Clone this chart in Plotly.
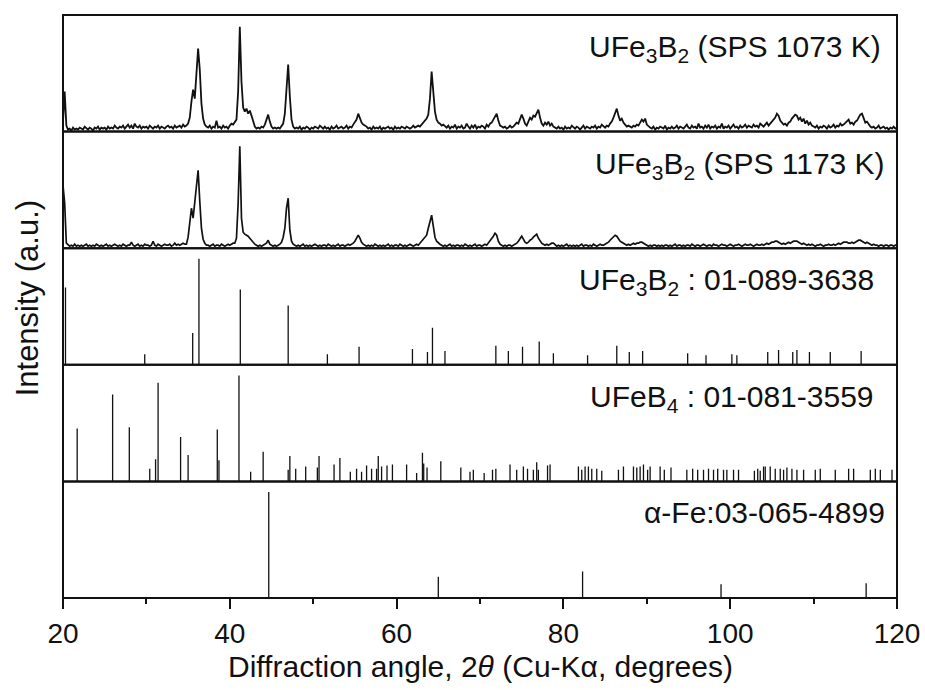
import plotly.graph_objects as go

# ---------------- data ----------------
STEP = 0.2  # 2theta step of the digitised patterns (deg)

# UFe3B2 sintered at 1073 K: runs of (start 2theta, intensities at STEP spacing)
runs_1073 = [
    (20.0, [10, 40, 6, 2]),
    (20.8, [3, 1, 4, 2, 3, 2, 4, 3, 2, 5, 3, 2, 4, 3, 1, 4, 3, 5, 2, 4, 3]),
    (25.0, [4, 2, 5, 3, 4, 3, 6, 4, 3, 5, 4, 6, 3, 5, 7, 4, 6, 3, 8, 5, 4, 6, 3, 5, 4]),
    (30.0, [5, 3, 6, 4, 3, 5, 4, 6, 3, 5, 4, 3, 5, 6, 4, 5, 3, 6, 4, 5, 6, 4, 7, 5, 6]),
    (35.0, [8, 14, 30, 42, 33, 55, 83, 62, 28, 13, 7, 5]),
    (37.4, [4, 6, 3, 5, 4, 11, 4, 5, 3, 6, 4, 5, 3, 6, 8, 7]),
    (40.6, [9, 12, 40, 105, 50, 24, 20, 23, 18, 21, 16, 10, 5, 3, 4, 3, 5, 4, 7, 12, 17, 10, 5,
            3, 4, 3, 4, 3, 5, 8, 18, 43, 67, 35, 12, 5, 3]),
    (48.0, [4, 3, 5, 2, 4, 3, 5, 4, 2, 4, 3, 5, 4, 3, 6, 4, 3, 5, 3, 4, 2, 5, 3, 4, 6, 3, 4, 5,
            3, 4, 6, 3, 5, 4, 7, 9]),
    (55.2, [12, 18, 13, 9, 7, 6, 5]),
    (56.6, [3, 4, 2, 5, 3, 4, 3, 5, 2, 4, 3, 4, 5, 3, 4, 2, 5, 3, 4, 3, 5, 4, 3, 5, 4, 3, 4, 6,
            4, 5, 6, 5, 7, 8]),
    (63.4, [10, 13, 17, 33, 60, 38, 20, 12, 9, 8, 6, 7, 5]),
    (66.0, [4, 6, 3, 5, 4, 7, 3, 5, 4, 6, 3, 4, 8, 5, 3, 6, 4, 7, 3, 5, 4, 6, 5, 3, 7, 5, 8]),
    (71.4, [9, 12, 16, 18, 11, 6, 5, 4]),
    (73.0, [5, 3, 4, 6, 4, 5, 7, 9]),
    (74.6, [8, 12, 17, 13, 8, 6, 10, 14, 12, 16, 15, 19, 22, 14, 8, 6, 9, 7, 10, 6, 8, 5]),
    (79.0, [4, 3, 5, 3, 4, 2, 5, 3, 4, 3, 6, 4, 3, 5, 4, 2, 4, 6, 3, 5, 4, 3, 5, 4, 6, 3, 5, 4,
            7, 5, 4, 6, 5, 8, 10]),
    (86.0, [14, 19, 23, 16, 11, 13, 9, 7, 5, 6, 5, 4, 6, 5, 7, 6, 9, 12, 10, 13, 7, 5]),
    (90.4, [4, 3, 5, 2, 4, 3, 5, 4, 3, 6, 2, 4, 3, 5, 3, 4, 6, 3, 5, 4,
            3, 5, 7, 4, 3, 6, 4, 5, 3, 8, 4, 5, 3, 6, 4, 7, 3, 5, 4, 6,
            3, 5, 4, 8, 3, 5, 4, 6, 3, 5, 7, 4, 5, 3, 6, 4, 5, 7, 4, 6,
            5, 4, 7, 5, 6, 4, 8, 6, 5, 7, 9, 6, 8, 10]),
    (105.2, [12, 14, 18, 16, 11, 9, 7, 8, 6, 9, 10, 13, 15, 17, 16, 12, 14, 10, 13, 8, 11, 7, 9, 6]),
    (110.0, [5, 4, 6, 3, 5, 4, 6, 5, 3, 6, 4, 5, 7, 4, 6, 5, 8, 6, 7, 9]),
    (114.0, [10, 12, 8, 9, 7, 10, 11, 14, 17, 18, 13, 9, 10, 7, 5]),
    (117.0, [4, 5, 3, 4, 6, 3, 4, 5, 3, 4, 2, 4, 3, 5, 3, 4]),
]

# UFe3B2 sintered at 1173 K
runs_1173 = [
    (20.0, [63, 45, 5, 3]),
    (20.8, [2, 3, 2, 4, 2, 3, 2, 3, 2, 3, 4, 2, 3, 2, 3, 2, 4, 3, 2,
            3, 2, 3, 4, 2, 3, 2, 3, 4, 3, 2, 3, 2, 4, 3, 2, 3, 3, 6, 3,
            2, 3, 4, 2, 3, 2, 4, 3, 3, 2, 3, 7, 3, 2, 4, 3, 2, 3, 4, 3,
            3, 4, 2, 3, 5, 3, 4, 3, 4, 5, 4]),
    (34.8, [4, 11, 25, 40, 30, 45, 65, 78, 47, 20, 9, 5, 3]),
    (37.4, [3, 2, 3, 4, 2, 3, 3, 2, 4, 3, 2, 3, 4, 3, 4, 5]),
    (40.6, [5, 10, 45, 102, 30, 16, 14, 13, 12, 10, 8, 5, 4]),
    (43.2, [3, 2, 3, 2, 3, 4, 5, 8, 4]),
    (45.0, [3, 2, 3, 2, 3, 4, 6, 11, 20, 40, 50, 18, 7, 4]),
    (47.8, [3, 2, 3, 2, 3, 4, 2, 3, 2, 3, 2, 3, 4, 3, 2, 3, 2, 3, 3, 2, 4, 3, 2, 3, 2, 3, 4, 2,
            3, 3, 2, 3, 4, 3, 4, 5]),
    (55.0, [7, 10, 13, 10, 6, 4]),
    (56.2, [3, 2, 3, 2, 3, 2, 4, 3, 2, 3, 2, 3, 2, 3, 4, 2, 3, 2, 3, 3, 2, 4, 3, 2, 3, 2, 3, 4,
            3, 2, 3, 4, 3, 5, 6, 8]),
    (63.4, [10, 13, 20, 28, 33, 22, 11, 7, 5, 4]),
    (65.4, [3, 2, 3, 2, 3, 4, 2, 3, 2, 3, 3, 2, 3, 2, 4, 3, 2, 3, 2, 3, 4, 2, 3, 3, 2, 3, 4, 3,
            5, 7]),
    (71.4, [9, 12, 15, 13, 7, 4]),
    (72.6, [3, 2, 3, 2, 3, 3, 2, 3, 4, 5]),
    (74.6, [7, 10, 12, 9, 6, 5, 6, 8, 9, 11, 13, 14, 10, 7, 5, 4, 3, 4, 3, 4, 5, 5]),
    (79.0, [3, 2, 3, 2, 3, 2, 3, 4, 2, 3, 2, 3, 2, 3, 2, 3, 4, 2, 3, 3, 2, 3, 2, 4, 3, 2, 3, 4,
            3, 3, 4, 5, 6, 8]),
    (85.8, [10, 11, 13, 12, 9, 7, 6, 5, 4, 3, 4, 3, 4, 5, 4, 5, 5, 6, 6, 5, 4]),
    (90.0, [3, 2, 3, 2, 3, 3, 2, 3, 2, 3, 2, 3, 3, 2, 3, 2, 3, 4, 2, 3,
            3, 2, 3, 2, 3, 3, 2, 4, 3, 2, 3, 3, 2, 3, 4, 3, 2, 3, 3, 2,
            4, 3, 3, 2, 3, 4, 3, 3, 2, 3, 4, 3, 2, 3, 3, 4, 3, 2, 3, 4,
            3, 3, 4, 3, 2, 3, 4, 3, 3, 4, 3, 4, 5, 4, 5, 6]),
    (105.2, [6, 7, 7, 6, 5, 4, 5, 4, 5, 6, 5, 6, 7, 7, 7, 6, 5]),
    (108.6, [4, 5, 4, 3, 4, 3, 4, 3, 2, 3, 3, 4, 3, 2, 3, 3, 4, 3, 3, 4, 3, 4, 5, 4, 5, 6, 6]),
    (114.0, [6, 5, 5, 6, 5, 6, 7, 8, 8, 7, 6, 5, 6, 5, 4]),
    (117.0, [3, 4, 3, 3, 2, 3, 3, 2, 3, 3, 2, 3, 3, 2, 3, 3]),
]

# Reference stick patterns (2theta, relative intensity %)
pdf_3638_tt = [20.3, 29.8, 35.55, 36.3, 41.26, 47.0, 51.7, 55.5, 61.9, 63.7, 64.3, 65.8,
               71.9, 73.4, 75.1, 77.1, 78.8, 82.9, 86.4, 87.9, 89.5, 94.9, 97.1, 100.2,
               100.8, 104.5, 105.8, 107.5, 108.0, 109.5, 112.0, 115.7]
pdf_3638_I = [73, 10, 30, 100, 71, 56, 10, 17, 15, 12, 35, 13,
              18, 13, 17, 22, 11, 9, 18, 12, 13, 11, 9, 10,
              9, 12, 14, 12, 14, 12, 12, 13]

pdf_3559_tt = [21.7, 25.95, 27.95, 30.4, 31.1, 31.4, 34.1, 35.0, 38.5, 38.7, 41.1, 42.5,
               44.0, 47.0, 47.2, 47.9, 49.1, 50.5, 50.7, 52.5, 53.2, 54.45, 55.2, 55.8,
               56.4, 57.0, 57.6, 57.8, 58.2, 58.85, 59.5, 61.2, 62.4, 63.1, 63.25, 63.65,
               65.3, 67.7, 68.8, 69.2, 70.5, 71.5, 71.9, 73.6, 74.4, 75.2, 75.7, 76.4,
               76.8, 77.0, 78.1, 78.4, 81.8, 82.2, 82.6, 83.0, 83.4, 84.0, 84.6, 86.6,
               87.2, 88.4, 88.8, 89.2, 89.6, 90.1, 90.4, 91.6, 92.1, 92.9, 94.8, 95.5,
               96.1, 96.8, 97.4, 98.0, 98.5, 99.2, 99.6, 100.4, 101.0, 102.9, 103.3, 103.6,
               104.0, 104.2, 104.8, 105.4, 106.0, 106.4, 106.8, 107.4, 108.0, 108.8, 110.2,
               110.8, 112.6, 114.2, 114.8, 116.8, 117.4, 118.0, 119.4]
pdf_3559_I = [50, 82, 51, 12, 21, 93, 42, 25, 49, 20, 100, 9,
              28, 11, 24, 12, 14, 13, 24, 16, 22, 9, 12, 9,
              15, 12, 12, 24, 14, 15, 16, 16, 8, 27, 17, 13,
              19, 13, 9, 11, 8, 11, 12, 16, 11, 14, 12, 11,
              18, 11, 15, 16, 14, 11, 14, 14, 12, 12, 10, 11,
              14, 14, 13, 14, 16, 11, 14, 14, 11, 13, 11, 12,
              11, 11, 12, 11, 12, 11, 11, 11, 11, 10, 12, 10,
              14, 14, 14, 12, 12, 11, 13, 12, 11, 11, 11,
              12, 11, 12, 12, 11, 12, 11, 11]

pdf_4899_tt = [44.67, 65.0, 82.3, 98.9, 116.3]
pdf_4899_I = [100, 20, 25, 13, 14]

panel_labels = [
    "UFe<sub>3</sub>B<sub>2</sub> (SPS 1073 K)",
    "UFe<sub>3</sub>B<sub>2</sub> (SPS 1173 K)",
    "UFe<sub>3</sub>B<sub>2</sub> : 01-089-3638",
    "UFeB<sub>4</sub> : 01-081-3559",
    "\u03b1-Fe:03-065-4899",
]
x_ticks = [20, 40, 60, 80, 100, 120]
x_title = "Diffraction angle, 2<i>\u03b8</i> (Cu-K\u03b1, degrees)"
y_title = "Intensity (a.u.)"

# ---------------- helpers ----------------
def expand(runs):
    xs, ys = [], []
    for start, vals in runs:
        for k, v in enumerate(vals):
            xs.append(round(start + STEP * k, 3))
            ys.append(v)
    return xs, ys


def sticks(tt, inten):
    xs, ys = [], []
    for t, i in zip(tt, inten):
        xs += [t, t, None]
        ys += [0, i, None]
    return xs, ys


FONT = "Liberation Sans, Arial, Helvetica, sans-serif"
INK = "#111111"

fig = go.Figure()

# panels from top (row 0) to bottom (row 4); yaxis names: top -> y5, bottom -> y
axis_for_row = ["y5", "y4", "y3", "y2", "y"]

x1, y1 = expand(runs_1073)
x2, y2 = expand(runs_1173)
fig.add_trace(go.Scatter(x=x1, y=y1, mode="lines", yaxis="y5",
                         line=dict(color=INK, width=1.8), hoverinfo="skip"))
fig.add_trace(go.Scatter(x=x2, y=y2, mode="lines", yaxis="y4",
                         line=dict(color=INK, width=1.7), hoverinfo="skip"))

for tt, ii, ax in [(pdf_3638_tt, pdf_3638_I, "y3"),
                   (pdf_3559_tt, pdf_3559_I, "y2"),
                   (pdf_4899_tt, pdf_4899_I, "y")]:
    sx, sy = sticks(tt, ii)
    fig.add_trace(go.Scatter(x=sx, y=sy, mode="lines", yaxis=ax,
                             line=dict(color=INK, width=1.3), hoverinfo="skip"))

n = 5
h = 1.0 / n
yaxis_common = dict(showticklabels=False, ticks="", showgrid=False, zeroline=False,
                    showline=False, fixedrange=True, automargin=False)
layout_axes = {}
for row, ax in enumerate(axis_for_row):
    lo = (n - 1 - row) * h
    key = "yaxis" if ax == "y" else "yaxis" + ax[1:]
    rng = [0, 116.7] if row < 2 else [0, 110]
    d = dict(yaxis_common, domain=[lo, lo + h], range=rng, anchor="x")
    layout_axes[key] = d

shapes = []
for row in range(n):
    lo = (n - 1 - row) * h
    shapes.append(dict(type="rect", xref="paper", yref="paper", x0=0, x1=1, y0=lo, y1=lo + h,
                       line=dict(color=INK, width=2), layer="above"))

label_dx = [-14, -10, -21, -21, -10]
annotations = []
for row, (txt, dx) in enumerate(zip(panel_labels, label_dx)):
    top = 1 - row * h
    annotations.append(dict(text=txt, xref="paper", yref="paper", x=1, y=top,
                            xanchor="right", yanchor="top", xshift=dx, yshift=-13,
                            showarrow=False, font=dict(family=FONT, size=30, color="#111")))

annotations.append(dict(text=y_title, xref="paper", yref="paper", x=0, y=0.514,
                        xanchor="center", yanchor="middle", xshift=-36, textangle=-90,
                        showarrow=False, font=dict(family=FONT, size=31, color="#111")))
annotations.append(dict(text=x_title, xref="paper", yref="paper", x=0.5, y=-0.118,
                        xanchor="center", yanchor="middle",
                        showarrow=False, font=dict(family=FONT, size=30, color="#111")))

fig.update_layout(
    width=925, height=690,
    margin=dict(l=63, r=28, t=15, b=92, autoexpand=False),
    paper_bgcolor="white", plot_bgcolor="white",
    showlegend=False,
    xaxis=dict(range=[20, 120], tickvals=x_ticks, ticks="outside", ticklen=10, tickwidth=2,
               tickcolor=INK, showgrid=False, zeroline=False, showline=False,
               anchor="y", fixedrange=True, automargin=False,
               minor=dict(tickvals=[30, 50, 70, 90, 110], ticks="outside", ticklen=5,
                          tickwidth=2, tickcolor=INK),
               tickfont=dict(family=FONT, size=28, color="#111")),
    shapes=shapes,
    annotations=annotations,
    **layout_axes,
)

fig.write_html("out.html")
